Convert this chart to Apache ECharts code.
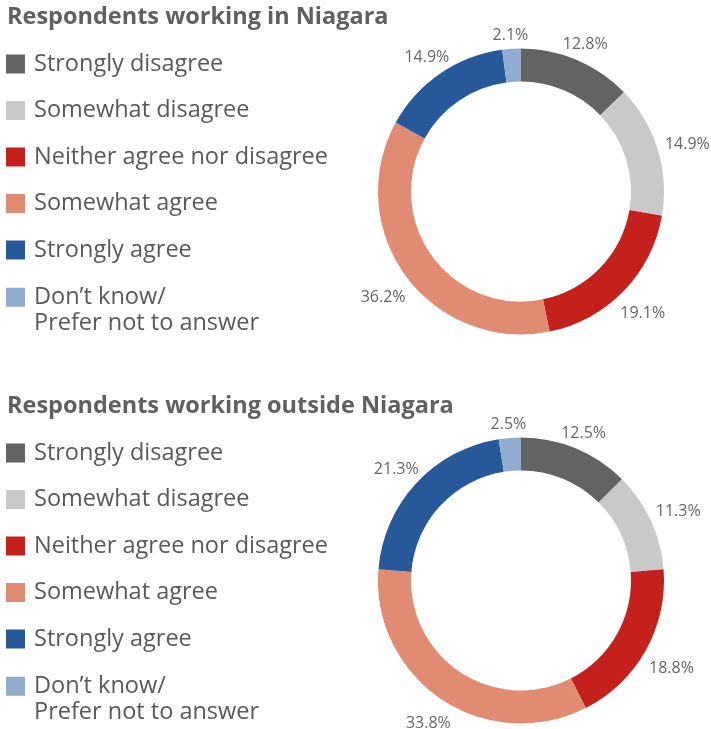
<!DOCTYPE html>
<html>
<head>
<meta charset="utf-8">
<script src="https://cdn.jsdelivr.net/npm/echarts@6/dist/echarts.min.js"></script>
<style>
  html, body { margin: 0; padding: 0; background: #fff; }
  #main { width: 711px; height: 729px; }
</style>
</head>
<body>
<div id="main"></div>
<script>
var categories = ['Strongly disagree', 'Somewhat disagree', 'Neither agree nor disagree',
  'Somewhat agree', 'Strongly agree', 'Don’t know/\nPrefer not to answer'];
var colors = ['#636363', '#c9c9c9', '#c4201c', '#e08b72', '#27589a', '#90acce'];
var inNiagara = [12.8, 14.9, 19.1, 36.2, 14.9, 2.1];
var outsideNiagara = [12.5, 11.3, 18.8, 33.8, 21.3, 2.5];
var titles = ['Respondents working in Niagara', 'Respondents working outside Niagara'];

var myChart = echarts.init(document.getElementById('main'));
var font = '"Open Sans", sans-serif';
var offsets = [0, 389];
var allSeries = [inNiagara, outsideNiagara];
var cx = 521, cy = 191.5, rIn = 110, rOut = 143;
var labelSize = 16;

function pieData(values) {
  return values.map(function (v, i) {
    return { name: categories[i], value: v, itemStyle: { color: colors[i] } };
  });
}

// put each percentage just outside the ring, on the slice's middle angle
function placeLabel(params) {
  var vals = allSeries[params.seriesIndex];
  var total = vals.reduce(function (a, b) { return a + b; }, 0);
  var before = 0;
  for (var i = 0; i < params.dataIndex; i++) before += vals[i];
  var mid = -Math.PI / 2 + (before + vals[params.dataIndex] / 2) / total * Math.PI * 2;
  var dx = Math.cos(mid), dy = Math.sin(mid);
  var hw = params.labelRect.width / 2, hh = labelSize / 2;
  var d = rOut + 9.5 + Math.sqrt(hw * hw * dx * dx + hh * hh * dy * dy);
  return {
    x: cx + d * dx,
    y: cy + offsets[params.seriesIndex] + d * dy + 4,
    align: 'center',
    verticalAlign: 'middle'
  };
}

var legends = [];
offsets.forEach(function (dy) {
  legends.push({
    orient: 'vertical',
    left: 6,
    top: 50.5 + dy,
    height: 300,
    padding: 0,
    icon: 'rect',
    itemWidth: 19,
    itemHeight: 19,
    itemGap: 19.5,
    selectedMode: false,
    data: categories.slice(0, 5),
    textStyle: { fontFamily: font, fontSize: 23.5, color: '#58595b', lineHeight: 27, padding: [0, 0, 0, 4] }
  });
  legends.push({
    orient: 'vertical',
    left: 6,
    top: 257.5 + dy,
    height: 100,
    padding: 0,
    icon: 'rect',
    itemWidth: 19,
    itemHeight: 19,
    selectedMode: false,
    data: categories.slice(5),
    formatter: function (name) { return '\n' + name; },
    textStyle: { fontFamily: font, fontSize: 23.5, color: '#58595b', lineHeight: 26.5, padding: [0, 0, 0, 4] }
  });
});

var option = {
  animation: false,
  title: offsets.map(function (dy, k) {
    return {
      text: titles[k],
      left: 7,
      top: 5 + dy,
      padding: 0,
      textStyle: { fontFamily: font, fontSize: 23.5, fontWeight: 'bold', color: '#606060' }
    };
  }),
  legend: legends,
  series: allSeries.map(function (vals, k) {
    return {
      type: 'pie',
      center: [cx, cy + offsets[k]],
      radius: [rIn, rOut],
      startAngle: 90,
      clockwise: true,
      avoidLabelOverlap: false,
      data: pieData(vals),
      label: {
        show: true,
        position: 'outside',
        formatter: function (p) { return p.value.toFixed(1) + '%'; },
        fontFamily: font,
        fontSize: labelSize,
        color: '#666666'
      },
      labelLine: { show: false },
      labelLayout: placeLabel,
      emphasis: { disabled: true }
    };
  })
};

myChart.setOption(option);
</script>
</body>
</html>
